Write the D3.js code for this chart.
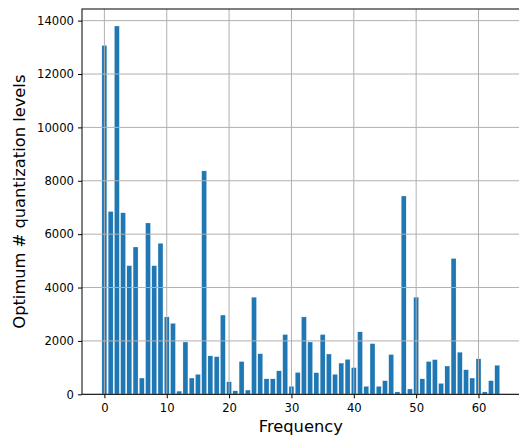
<!DOCTYPE html>
<html>
<head>
    <script src="https://d3js.org/d3.v7.min.js"></script>
    <style>
        body { margin: 0; background: #fff; }
        text { font-family: "DejaVu Sans", sans-serif; fill: #000; }
    </style>
</head>
<body>
    <svg width="519" height="436"></svg>
    <script>
        // levels per frequency index 0..63
        const levels = [
            13070, 6850, 13800, 6800, 4820, 5520, 610, 6420, 4820, 5660,
            2900, 2660, 120, 1960, 610, 750, 8370, 1440, 1410, 2970,
            470, 130, 1230, 160, 3640, 1520, 580, 580, 880, 2240,
            300, 820, 2900, 1960, 810, 2240, 1510, 750, 1170, 1310,
            1000, 2340, 300, 1900, 300, 510, 1490, 90, 7430, 200,
            3640, 580, 1230, 1300, 410, 1060, 5090, 1580, 920, 610,
            1330, 90, 510, 1090
        ];
        const frequencies = levels.map((d, i) => i);
        const xTicks = [0, 10, 20, 30, 40, 50, 60];
        const yTicks = [0, 2000, 4000, 6000, 8000, 10000, 12000, 14000];

        const svg = d3.select("svg");
        const plotL = 82, plotR = 519.6, plotT = 9, plotB = 394.3;

        const x = d3.scaleLinear().domain([-3.59, 66.59]).range([plotL, plotR]);
        const y = d3.scaleLinear().domain([0, 14436]).range([plotB, plotT]);
        const barW = x(0.8) - x(0);

        // bars
        svg.append("g")
            .selectAll("rect")
            .data(frequencies)
            .enter().append("rect")
            .attr("x", d => x(d - 0.4))
            .attr("width", barW)
            .attr("y", d => y(levels[d]))
            .attr("height", d => y(0) - y(levels[d]))
            .attr("fill", "#1f77b4")
            .attr("stroke", "#fff")
            .attr("stroke-width", 0.3);

        // grid (drawn over the bars, like matplotlib)
        const grid = svg.append("g").attr("stroke", "#b0b0b0").attr("stroke-width", 1);
        grid.selectAll(".gx").data(xTicks).enter().append("line")
            .attr("x1", d => x(d)).attr("x2", d => x(d))
            .attr("y1", plotT).attr("y2", plotB);
        grid.selectAll(".gy").data(yTicks).enter().append("line")
            .attr("y1", d => y(d)).attr("y2", d => y(d))
            .attr("x1", plotL).attr("x2", plotR);

        // axes
        const xAxis = svg.append("g")
            .attr("transform", `translate(0,${plotB})`)
            .call(d3.axisBottom(x).tickValues(xTicks).tickSize(4).tickPadding(5).tickFormat(d3.format("d")));
        const yAxis = svg.append("g")
            .attr("transform", `translate(${plotL},0)`)
            .call(d3.axisLeft(y).tickValues(yTicks).tickSize(4).tickPadding(4).tickFormat(d3.format("d")));
        [xAxis, yAxis].forEach(a => {
            a.select(".domain").remove();
            a.selectAll("text").attr("font-size", "11.6px").attr("font-family", "DejaVu Sans").attr("fill", "#000");
            a.selectAll("line").attr("stroke", "#000").attr("stroke-width", 1);
        });

        // spines
        svg.append("rect")
            .attr("x", plotL).attr("y", plotT)
            .attr("width", plotR - plotL).attr("height", plotB - plotT)
            .attr("fill", "none").attr("stroke", "#000").attr("stroke-width", 1);

        // labels
        svg.append("text")
            .attr("x", (plotL + plotR) / 2).attr("y", 432)
            .attr("text-anchor", "middle")
            .attr("font-size", "16.3px")
            .text("Frequency");
        svg.append("text")
            .attr("transform", `translate(25,${(plotT + plotB) / 2}) rotate(-90)`)
            .attr("text-anchor", "middle")
            .attr("font-size", "16.3px")
            .text("Optimum # quantization levels");
    </script>
</body>
</html>
